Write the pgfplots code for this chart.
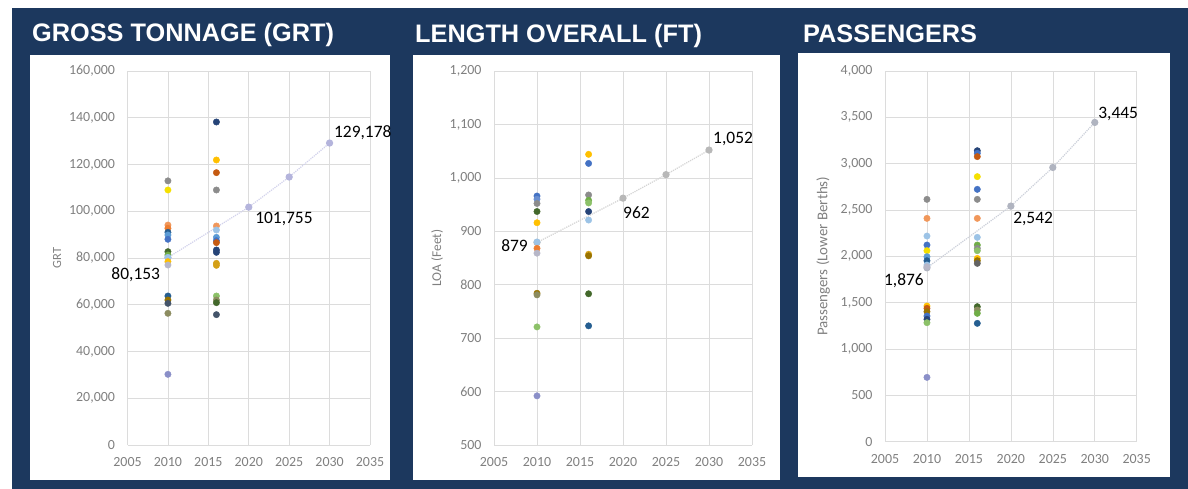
\documentclass[border=0pt]{standalone}
\usepackage{fontspec}
\setmainfont{Carlito}
\newfontfamily\titlefont{Liberation Sans}
\usepackage{pgfplots}
\pgfplotsset{compat=1.18}
\definecolor{navy}{HTML}{1C385E}
\definecolor{gridc}{HTML}{DCDCDC}
\definecolor{tickc}{HTML}{808080}
\definecolor{ca}{HTML}{4472C4}
\definecolor{cb}{HTML}{ED7D31}
\definecolor{cc}{HTML}{8C8C8C}
\definecolor{cd}{HTML}{FFC000}
\definecolor{ce}{HTML}{5B9BD5}
\definecolor{cf}{HTML}{70AD47}
\definecolor{cg}{HTML}{264478}
\definecolor{ch}{HTML}{C55A11}
\definecolor{ci}{HTML}{636363}
\definecolor{cj}{HTML}{997300}
\definecolor{ck}{HTML}{255E91}
\definecolor{cl}{HTML}{43682B}
\definecolor{cm}{HTML}{698ED0}
\definecolor{cn}{HTML}{F1975A}
\definecolor{co}{HTML}{B7B7C8}
\definecolor{cp}{HTML}{FFCD33}
\definecolor{cq}{HTML}{9CC3E6}
\definecolor{cr}{HTML}{8CC168}
\definecolor{cs}{HTML}{8A8FC8}
\definecolor{ct}{HTML}{F5E000}
\definecolor{cu}{HTML}{8C8C60}
\definecolor{cv}{HTML}{D4A017}
\definecolor{cw}{HTML}{44546A}
\definecolor{trA}{HTML}{B4B4DC}
\definecolor{trB}{HTML}{B8B8B8}
\definecolor{trC}{HTML}{B0B4C0}
\definecolor{trlA}{HTML}{D2D2EC}
\definecolor{trlB}{HTML}{D4D4D4}
\definecolor{trlC}{HTML}{CCD0DA}

\tikzset{lbl/.style={inner sep=0pt, font=\fontsize{17.5}{17.5}\selectfont, text=black}}
\pgfplotsset{
  panel/.style={
    scale only axis, anchor=south west, clip=false,
    xmin=2005, xmax=2035, xtick={2005,2010,...,2035},
    grid=major, grid style={draw=gridc, line width=0.6bp},
    axis line style={draw=none},
    major tick length=0pt,
    scaled y ticks=false, scaled x ticks=false,
    /pgf/number format/assume math mode=true,
    tick label style={font=\fontsize{14}{14}\selectfont, text=tickc},
    xticklabel style={/pgf/number format/1000 sep={}, yshift=-9bp},
    yticklabel style={/pgf/number format/fixed, /pgf/number format/1000 sep={,}, xshift=-9bp},
    ylabel style={text=tickc, anchor=center},
  },
  pts/.style={
    only marks, scatter, scatter src=explicit symbolic, mark size=3.2bp,
    scatter/classes={
      a={mark=*,draw=ca,fill=ca}, b={mark=*,draw=cb,fill=cb}, c={mark=*,draw=cc,fill=cc},
      d={mark=*,draw=cd,fill=cd}, e={mark=*,draw=ce,fill=ce}, f={mark=*,draw=cf,fill=cf},
      g={mark=*,draw=cg,fill=cg}, h={mark=*,draw=ch,fill=ch}, i={mark=*,draw=ci,fill=ci},
      j={mark=*,draw=cj,fill=cj}, k={mark=*,draw=ck,fill=ck}, l={mark=*,draw=cl,fill=cl},
      m={mark=*,draw=cm,fill=cm}, n={mark=*,draw=cn,fill=cn}, o={mark=*,draw=co,fill=co},
      p={mark=*,draw=cp,fill=cp}, q={mark=*,draw=cq,fill=cq}, r={mark=*,draw=cr,fill=cr},
      s={mark=*,draw=cs,fill=cs}, t={mark=*,draw=ct,fill=ct}, u={mark=*,draw=cu,fill=cu},
      v={mark=*,draw=cv,fill=cv}, w={mark=*,draw=cw,fill=cw}},
  },
}

\begin{document}
\begin{tikzpicture}[x=1bp,y=1bp]
\fill[white] (0,0) rectangle (1188,489);
\fill[navy] (12,0) rectangle (1188,481);
\fill[white] (30,9) rectangle (390,434);
\fill[white] (413,9) rectangle (780,434);
\fill[white] (798,12) rectangle (1170,436);
\node[anchor=base west, inner sep=0pt, text=white, font=\titlefont\bfseries\fontsize{25.4}{25.4}\selectfont] at (32,447) {GROSS TONNAGE (GRT)};
\node[anchor=base west, inner sep=0pt, text=white, font=\titlefont\bfseries\fontsize{25.4}{25.4}\selectfont] at (415,446) {LENGTH OVERALL (FT)};
\node[anchor=base west, inner sep=0pt, text=white, font=\titlefont\bfseries\fontsize{25.4}{25.4}\selectfont] at (803,446.5) {PASSENGERS};

% Panel 1: GRT
\begin{axis}[panel, at={(127.5bp,44bp)}, width=242.5bp, height=374bp,
  ymin=0, ymax=160000, ytick={0,20000,...,160000},
  ylabel={GRT}, ylabel style={font=\fontsize{12.5}{12.5}\selectfont, at={(axis description cs:-0.29,0.5)}}]
\addplot[color=trlA, densely dotted, line width=1.2bp, mark=*, mark size=3bp, mark options={solid, fill=trA, draw=trA}]
  coordinates {(2010,80153) (2020,101755) (2025,114650) (2030,129178)};
\addplot[pts] table[meta=c] {
x y c
2010 113000 c
2010 109100 t
2010 94100 n
2010 92700 b
2010 90980 k
2010 89840 e
2010 88000 a
2010 82710 l
2010 81280 f
2010 80280 q
2010 78430 d
2010 77000 o
2010 63740 k
2010 62030 j
2010 60600 w
2010 56330 u
2010 30230 s
2016 138180 g
2016 121930 d
2016 116510 h
2016 109090 c
2016 93690 n
2016 91980 q
2016 88840 e
2016 87410 a
2016 86560 h
2016 83420 g
2016 82420 g
2016 77720 v
2016 76860 v
2016 63740 r
2016 62030 u
2016 60890 l
2016 55760 w
};
\node[lbl, anchor=base east, xshift=-7.7bp, yshift=-22bp] at (axis cs:2010,80153) {80,153};
\node[lbl, anchor=base west, xshift=6.3bp, yshift=-16bp] at (axis cs:2020,101755) {101,755};
\node[lbl, anchor=base west, xshift=4.3bp, yshift=6bp] at (axis cs:2030,129178) {129,178};
\end{axis}

% Panel 2: LOA
\begin{axis}[panel, at={(494bp,44bp)}, width=258bp, height=374bp,
  ymin=500, ymax=1200, ytick={500,600,...,1200},
  ylabel={LOA (Feet)}, ylabel style={font=\fontsize{13.5}{13.5}\selectfont, at={(axis description cs:-0.22,0.5)}}]
\addplot[color=trlB, densely dotted, line width=1.2bp, mark=*, mark size=3bp, mark options={solid, fill=trB, draw=trB}]
  coordinates {(2010,879) (2020,962) (2025,1006) (2030,1052)};
\addplot[pts] table[meta=c] {
x y c
2010 966 a
2010 960 m
2010 952 c
2010 937 l
2010 916 d
2010 880 q
2010 868 b
2010 859 o
2010 784 j
2010 781 u
2010 721 r
2010 592 s
2016 1044 d
2016 1027 a
2016 968 c
2016 958 f
2016 953 r
2016 937 g
2016 921 q
2016 857 v
2016 854 j
2016 783 l
2016 723 k
};
\node[lbl, anchor=base east, xshift=-9bp, yshift=-9.5bp] at (axis cs:2010,879) {879};
\node[lbl, anchor=base west, xshift=0bp, yshift=-20bp] at (axis cs:2020,962) {962};
\node[lbl, anchor=base west, xshift=4bp, yshift=7bp] at (axis cs:2030,1052) {1,052};
\end{axis}

% Panel 3: Passengers
\begin{axis}[panel, at={(885bp,47.3bp)}, width=251.7bp, height=370.7bp,
  ymin=0, ymax=4000, ytick={0,500,...,4000},
  ylabel={Passengers (Lower Berths)}, ylabel style={font=\fontsize{15}{15}\selectfont, at={(axis description cs:-0.246,0.5)}}]
\addplot[color=trlC, densely dotted, line width=1.2bp, mark=*, mark size=3bp, mark options={solid, fill=trC, draw=trC}]
  coordinates {(2010,1876) (2020,2542) (2025,2959) (2030,3445)};
\addplot[pts] table[meta=c] {
x y c
2010 2615 c
2010 2410 n
2010 2219 q
2010 2122 a
2010 2061 t
2010 1996 e
2010 1953 k
2010 1906 q
2010 1888 o
2010 1464 d
2010 1439 h
2010 1403 j
2010 1356 a
2010 1320 g
2010 1284 r
2010 694 s
2016 3140 g
2016 3112 a
2016 3076 h
2016 2860 t
2016 2723 a
2016 2615 c
2016 2410 n
2016 2205 q
2016 2122 f
2016 2086 c
2016 2061 r
2016 1978 d
2016 1953 j
2016 1924 i
2016 1457 l
2016 1421 u
2016 1385 f
2016 1277 k
};
\node[lbl, anchor=base east, xshift=-3bp, yshift=-17.2bp] at (axis cs:2010,1876) {1,876};
\node[lbl, anchor=base west, xshift=2.2bp, yshift=-17bp] at (axis cs:2020,2542) {2,542};
\node[lbl, anchor=base west, xshift=3.4bp, yshift=4.4bp] at (axis cs:2030,3445) {3,445};
\end{axis}
\end{tikzpicture}
\end{document}
